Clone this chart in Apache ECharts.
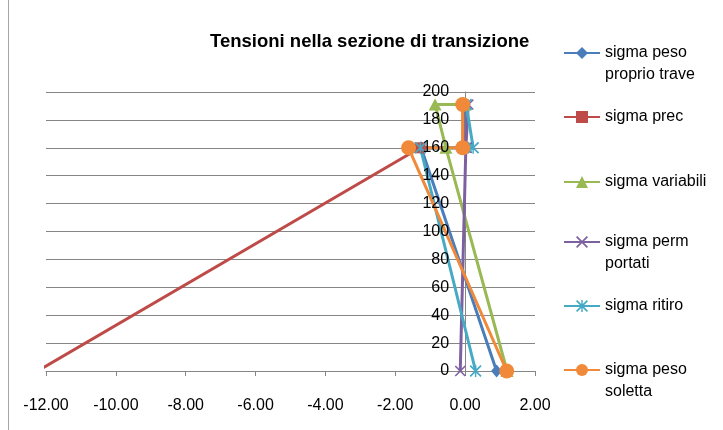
<!DOCTYPE html>
<html>
<head>
<meta charset="utf-8">
<script src="https://cdn.jsdelivr.net/npm/echarts@6/dist/echarts.min.js"></script>
<style>html,body{margin:0;padding:0;background:#fff;}#c{width:723px;height:430px;}</style>
</head>
<body>
<div id="c"></div>
<script>
// ---- data ----
const titleText = 'Tensioni nella sezione di transizione';
const seriesNames = ['sigma peso proprio trave', 'sigma prec', 'sigma variabili', 'sigma perm portati', 'sigma ritiro', 'sigma peso soletta'];
const legendLabels = ['sigma peso\nproprio trave', 'sigma prec', 'sigma variabili', 'sigma perm\nportati', 'sigma ritiro', 'sigma peso\nsoletta'];
// heights (y, cm) of the points of each series
const ySection = [0, 160, 160, 191];
const yVariabili = [0, 160, 191, 191];
// stresses (x) of each series
const xPesoProprioTrave = [0.90, -1.26, 0.00, 0.00];
const xPrec = [-12.24, -1.29, -0.06, -0.06];
const xVariabili = [1.20, -0.55, -0.86, 0.00];
const xPermPortati = [-0.14, 0.02, 0.05, 0.09];
const xRitiro = [0.30, -1.28, 0.23, 0.03];
const xPesoSoletta = [1.19, -1.62, -0.07, -0.07];
const xTickMin = -12, xTickMax = 2, xTickStep = 2;
const yTickMin = 0, yTickMax = 200, yTickStep = 20;

const seriesX = [xPesoProprioTrave, xPrec, xVariabili, xPermPortati, xRitiro, xPesoSoletta];
const seriesY = [ySection, ySection, yVariabili, ySection, ySection, ySection];

// ---- styles ----
const colors = ['#4A7EBB', '#BE4B48', '#98B954', '#7D60A0', '#46AAC5', '#F08A3A'];
const xPath = 'path://M0,1L1,0L10,9L9,10Z M9,0L10,1L1,10L0,9Z';
const starPath = 'path://M0,1L1,0L10,9L9,10Z M9,0L10,1L1,10L0,9Z M4.4,0L5.6,0L5.6,10L4.4,10Z';
const symbols = ['diamond', 'rect', 'triangle', xPath, starPath, 'circle'];
const symbolSizes = [[11, 13], 11, [13, 12], 11, 12, 15];
const legendIconY = [53, 117, 182, 242, 306, 370];
const FONT = 'Liberation Sans';
const GRID_LEFT = 46;

const series = seriesNames.map((name, i) => ({
  name: name,
  type: 'line',
  data: seriesX[i].map((x, k) => [x, seriesY[i][k]]),
  symbol: symbols[i],
  symbolSize: symbolSizes[i],
  showAllSymbol: true,
  clip: true,
  lineStyle: { color: colors[i], width: 3 },
  itemStyle: { color: colors[i] },
  emphasis: { disabled: true },
  animation: false
}));

const legends = seriesNames.map((name, i) => {
  const twoLines = legendLabels[i].indexOf('\n') >= 0;
  return {
    left: 563,
    top: twoLines ? legendIconY[i] - 33 : legendIconY[i] - 11,
    padding: 0,
    selectedMode: false,
    itemWidth: 36,
    itemHeight: 15,
    itemGap: 0,
    data: [name],
    // a blank first line keeps the first text line level with the icon
    formatter: () => (twoLines ? ' \n' : '') + legendLabels[i],
    textStyle: { fontFamily: FONT, fontSize: 16, color: '#000', lineHeight: 22 }
  };
});

const yBase = {
  type: 'value',
  position: 'left',
  min: yTickMin, max: yTickMax, interval: yTickStep,
  axisTick: { show: false }
};

const chart = echarts.init(document.getElementById('c'), null, { renderer: 'canvas' });
const option = {
  animation: false,
  backgroundColor: '#fff',
  title: {
    text: titleText,
    left: 205, top: 27,
    textStyle: { fontFamily: FONT, fontSize: 18.5, fontWeight: 'bold', color: '#000' }
  },
  grid: { left: GRID_LEFT, right: 188, top: 92, bottom: 59, containLabel: false },
  legend: legends,
  xAxis: {
    type: 'value',
    min: xTickMin, max: xTickMax, interval: xTickStep,
    axisLine: { show: true, onZero: false, lineStyle: { color: '#868686', width: 1 } },
    axisTick: { show: true, inside: false, length: 5, lineStyle: { color: '#868686' } },
    splitLine: { show: false },
    axisLabel: {
      margin: 27, fontFamily: FONT, fontSize: 16, color: '#000',
      formatter: v => v.toFixed(2)
    }
  },
  yAxis: [
    Object.assign({}, yBase, {
      z: 0,
      axisLine: { show: true, onZero: false, lineStyle: { color: '#868686', width: 1 } },
      splitLine: { show: true, lineStyle: { color: '#868686', width: 1 } },
      axisLabel: { show: false }
    }),
    // same scale, labels only, drawn above the series like the reference
    Object.assign({}, yBase, {
      z: 10,
      axisLine: { show: false, onZero: false },
      splitLine: { show: false },
      axisLabel: { margin: 16, fontFamily: FONT, fontSize: 16, color: '#000' }
    })
  ],
  graphic: [{
    type: 'line', silent: true,
    shape: { x1: 8.5, y1: 0, x2: 8.5, y2: 430 },
    style: { stroke: '#A6A6A6', lineWidth: 1 }
  }],
  series: series
};
chart.setOption(option);
// move the vertical axes (line + labels) so they cross the horizontal axis at x = 0
const zeroPx = chart.convertToPixel({ xAxisIndex: 0 }, 0);
const off = -(zeroPx - GRID_LEFT);
chart.setOption({ yAxis: [{ offset: off }, { offset: off }] });
</script>
</body>
</html>
